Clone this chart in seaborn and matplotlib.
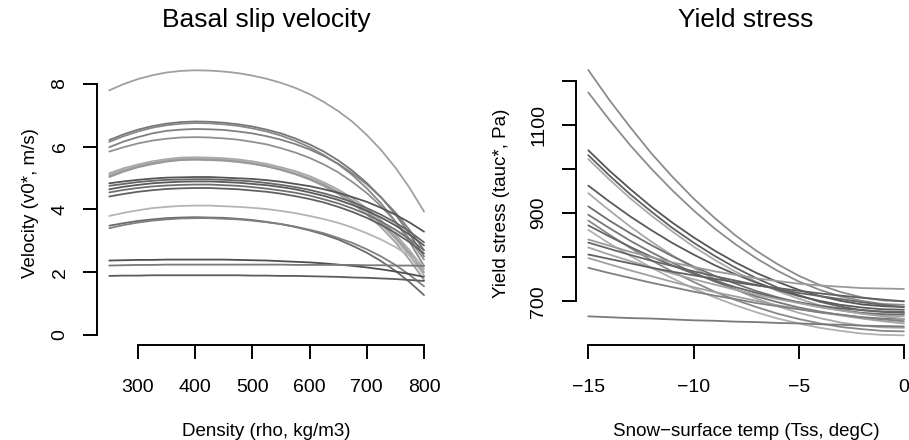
import matplotlib
matplotlib.use("Agg")
import matplotlib.pyplot as plt
import pandas as pd
import seaborn as sns

# ---------------- data ----------------
density = [250, 275, 300, 325, 350, 375, 400, 425, 450, 475, 500, 525,
           550, 575, 600, 625, 650, 675, 700, 725, 750, 775, 800]
velocity_curves = [
    [7.79, 7.99, 8.15, 8.27, 8.36, 8.41, 8.43, 8.42, 8.39, 8.34, 8.26, 8.16, 8.03, 7.87, 7.67, 7.42, 7.13, 6.79, 6.37, 5.89, 5.33, 4.68, 3.93],
    [6.21, 6.39, 6.54, 6.65, 6.73, 6.78, 6.80, 6.79, 6.76, 6.71, 6.64, 6.54, 6.42, 6.26, 6.07, 5.84, 5.56, 5.23, 4.84, 4.38, 3.84, 3.22, 2.50],
    [6.15, 6.33, 6.48, 6.60, 6.68, 6.73, 6.75, 6.74, 6.71, 6.66, 6.58, 6.48, 6.35, 6.18, 5.98, 5.73, 5.44, 5.09, 4.67, 4.19, 3.62, 2.96, 2.20],
    [5.98, 6.16, 6.30, 6.42, 6.50, 6.54, 6.56, 6.55, 6.53, 6.48, 6.42, 6.33, 6.22, 6.08, 5.91, 5.70, 5.45, 5.15, 4.80, 4.38, 3.90, 3.34, 2.70],
    [5.84, 5.98, 6.10, 6.19, 6.25, 6.29, 6.30, 6.29, 6.26, 6.22, 6.15, 6.07, 5.95, 5.81, 5.64, 5.43, 5.18, 4.87, 4.52, 4.10, 3.61, 3.05, 2.40],
    [5.15, 5.31, 5.43, 5.53, 5.60, 5.65, 5.66, 5.65, 5.63, 5.59, 5.53, 5.45, 5.34, 5.22, 5.06, 4.86, 4.63, 4.36, 4.03, 3.65, 3.21, 2.69, 2.10],
    [5.10, 5.26, 5.39, 5.50, 5.57, 5.62, 5.63, 5.62, 5.60, 5.55, 5.49, 5.41, 5.30, 5.16, 5.00, 4.80, 4.55, 4.27, 3.93, 3.53, 3.06, 2.52, 1.90],
    [5.06, 5.23, 5.36, 5.47, 5.54, 5.59, 5.60, 5.59, 5.57, 5.52, 5.46, 5.37, 5.26, 5.12, 4.95, 4.74, 4.49, 4.19, 3.84, 3.43, 2.95, 2.39, 1.75],
    [5.03, 5.20, 5.34, 5.44, 5.52, 5.57, 5.58, 5.57, 5.55, 5.51, 5.45, 5.37, 5.26, 5.13, 4.97, 4.78, 4.55, 4.27, 3.95, 3.56, 3.12, 2.60, 2.00],
    [4.83, 4.89, 4.94, 4.98, 5.01, 5.02, 5.03, 5.03, 5.01, 4.99, 4.97, 4.93, 4.88, 4.81, 4.74, 4.64, 4.53, 4.39, 4.24, 4.05, 3.83, 3.58, 3.29],
    [4.75, 4.81, 4.87, 4.91, 4.94, 4.95, 4.96, 4.96, 4.94, 4.92, 4.89, 4.84, 4.78, 4.71, 4.62, 4.51, 4.38, 4.23, 4.04, 3.83, 3.58, 3.29, 2.95],
    [4.64, 4.72, 4.78, 4.83, 4.86, 4.88, 4.89, 4.89, 4.87, 4.85, 4.81, 4.77, 4.71, 4.64, 4.54, 4.43, 4.30, 4.14, 3.96, 3.74, 3.49, 3.19, 2.85],
    [4.54, 4.62, 4.68, 4.73, 4.76, 4.78, 4.79, 4.79, 4.77, 4.75, 4.71, 4.66, 4.60, 4.53, 4.44, 4.32, 4.19, 4.03, 3.84, 3.61, 3.35, 3.05, 2.70],
    [4.41, 4.49, 4.56, 4.61, 4.65, 4.67, 4.68, 4.68, 4.66, 4.64, 4.60, 4.56, 4.50, 4.42, 4.33, 4.22, 4.08, 3.92, 3.73, 3.51, 3.25, 2.95, 2.60],
    [3.79, 3.89, 3.97, 4.04, 4.08, 4.11, 4.12, 4.12, 4.10, 4.08, 4.05, 4.01, 3.95, 3.88, 3.79, 3.69, 3.57, 3.42, 3.24, 3.04, 2.80, 2.52, 2.20],
    [3.48, 3.56, 3.63, 3.68, 3.72, 3.74, 3.75, 3.74, 3.73, 3.70, 3.66, 3.60, 3.53, 3.44, 3.33, 3.20, 3.04, 2.84, 2.62, 2.35, 2.04, 1.68, 1.27],
    [3.40, 3.50, 3.58, 3.64, 3.68, 3.71, 3.72, 3.72, 3.70, 3.68, 3.64, 3.59, 3.53, 3.45, 3.35, 3.24, 3.09, 2.93, 2.73, 2.50, 2.23, 1.91, 1.55],
    [2.37, 2.38, 2.39, 2.39, 2.40, 2.40, 2.40, 2.40, 2.40, 2.39, 2.38, 2.37, 2.35, 2.33, 2.31, 2.28, 2.24, 2.20, 2.15, 2.09, 2.02, 1.94, 1.85],
    [2.21, 2.22, 2.23, 2.23, 2.24, 2.24, 2.24, 2.24, 2.24, 2.24, 2.24, 2.24, 2.24, 2.23, 2.23, 2.23, 2.23, 2.23, 2.22, 2.22, 2.21, 2.21, 2.20],
    [1.88, 1.89, 1.89, 1.90, 1.90, 1.90, 1.90, 1.90, 1.90, 1.90, 1.89, 1.89, 1.88, 1.88, 1.87, 1.86, 1.85, 1.83, 1.82, 1.80, 1.78, 1.75, 1.72],
]
velocity_greys = ["#a0a0a0", "#777777", "#888888", "#808080", "#909090",
                  "#a8a8a8", "#b0b0b0", "#a0a0a0", "#999999", "#555555",
                  "#666666", "#5a5a5a", "#707070", "#606060", "#b4b4b4",
                  "#6a6a6a", "#808080", "#505050", "#7a7a7a", "#5c5c5c"]

temperature = [-15, -14, -13, -12, -11, -10, -9, -8, -7, -6, -5, -4, -3, -2, -1, 0]
stress_curves = [
    [1224, 1156, 1094, 1035, 982, 933, 889, 849, 814, 784, 758, 737, 721, 709, 702, 700],
    [1173, 1111, 1053, 1000, 951, 906, 865, 829, 797, 769, 745, 726, 711, 701, 694, 692],
    [1042, 996, 954, 914, 878, 845, 815, 788, 764, 744, 726, 712, 701, 693, 689, 687],
    [1031, 985, 942, 903, 866, 833, 803, 776, 752, 731, 714, 699, 688, 680, 676, 674],
    [1022, 976, 933, 894, 858, 824, 794, 767, 744, 723, 706, 691, 680, 672, 668, 666],
    [962, 926, 892, 861, 832, 806, 782, 761, 742, 726, 712, 701, 692, 686, 682, 681],
    [945, 906, 869, 835, 804, 776, 750, 727, 706, 689, 674, 662, 652, 645, 641, 640],
    [915, 883, 854, 827, 802, 779, 758, 740, 723, 709, 697, 687, 680, 674, 671, 670],
    [896, 866, 837, 811, 787, 765, 745, 727, 711, 698, 686, 677, 669, 664, 661, 660],
    [883, 851, 821, 793, 767, 744, 722, 703, 687, 672, 660, 650, 642, 637, 633, 632],
    [872, 847, 823, 801, 781, 763, 747, 732, 719, 707, 698, 690, 684, 680, 677, 676],
    [862, 831, 803, 776, 752, 729, 709, 691, 675, 661, 650, 640, 633, 627, 624, 623],
    [840, 826, 812, 800, 788, 778, 768, 760, 752, 746, 740, 736, 733, 730, 729, 728],
    [833, 819, 805, 792, 780, 768, 757, 747, 737, 728, 719, 712, 705, 698, 692, 687],
    [822, 806, 791, 777, 763, 750, 738, 726, 715, 705, 696, 687, 679, 672, 666, 660],
    [806, 796, 786, 776, 767, 759, 751, 743, 736, 730, 724, 718, 713, 708, 704, 700],
    [798, 784, 770, 757, 744, 732, 721, 711, 701, 691, 683, 675, 668, 661, 655, 650],
    [776, 764, 753, 742, 732, 722, 713, 705, 696, 689, 682, 675, 670, 664, 659, 655],
    [666, 664, 662, 661, 659, 657, 656, 654, 653, 651, 650, 648, 647, 645, 644, 643],
]
stress_greys = ["#8c8c8c", "#8c8c8c", "#555555", "#606060", "#aaaaaa",
                "#5a5a5a", "#a8a8a8", "#707070", "#777777", "#888888",
                "#666666", "#b0b0b0", "#999999", "#666666", "#a4a4a4",
                "#606060", "#a0a0a0", "#808080", "#7a7a7a"]

density_ticks = [300, 400, 500, 600, 700, 800]
velocity_ticks = [0, 2, 4, 6, 8]
temp_ticks = [-15, -10, -5, 0]
temp_ticklabels = ["\u221215", "\u221210", "\u22125", "0"]
stress_ticks = [700, 800, 900, 1000, 1100, 1200]
stress_ticklabels = ["700", "", "900", "", "1100", ""]

# ---------------- build tables ----------------
rows = []
for i, curve in enumerate(velocity_curves):
    for d, v in zip(density, curve):
        rows.append({"density": d, "velocity": v, "curve": f"v{i:02d}"})
df_v = pd.DataFrame(rows)
pal_v = {f"v{i:02d}": c for i, c in enumerate(velocity_greys)}

rows = []
for i, curve in enumerate(stress_curves):
    for t, s in zip(temperature, curve):
        rows.append({"temp": t, "stress": s, "curve": f"s{i:02d}"})
df_s = pd.DataFrame(rows)
pal_s = {f"s{i:02d}": c for i, c in enumerate(stress_greys)}

# ---------------- style ----------------
sns.set_theme(style="white")
plt.rcParams["font.family"] = ["Liberation Sans", "DejaVu Sans"]
plt.rcParams["text.color"] = "black"
plt.rcParams["axes.labelcolor"] = "black"
plt.rcParams["xtick.color"] = "black"
plt.rcParams["ytick.color"] = "black"

fig = plt.figure(figsize=(9.09, 4.40), dpi=100)
ax1 = fig.add_axes([0.1064, 0.2148, 0.3739, 0.6473])
ax2 = fig.add_axes([0.6333, 0.2148, 0.3750, 0.6473])

sns.lineplot(data=df_v, x="density", y="velocity", hue="curve", palette=pal_v,
             estimator=None, sort=False, legend=False, linewidth=1.3, ax=ax1)
sns.lineplot(data=df_s, x="temp", y="stress", hue="curve", palette=pal_s,
             estimator=None, sort=False, legend=False, linewidth=1.3, ax=ax2)

ax1.set_xlim(228, 822)
ax1.set_ylim(-0.336, 8.736)
ax2.set_xlim(-15.6, 0.6)
ax2.set_ylim(600, 1245)

ax1.set_xticks(density_ticks)
ax1.set_xticklabels([str(t) for t in density_ticks])
ax1.set_yticks(velocity_ticks)
ax1.set_yticklabels([str(t) for t in velocity_ticks])
ax2.set_xticks(temp_ticks)
ax2.set_xticklabels(temp_ticklabels)
ax2.set_yticks(stress_ticks)
ax2.set_yticklabels(stress_ticklabels)

ax1.spines["left"].set_bounds(velocity_ticks[0], velocity_ticks[-1])
ax1.spines["bottom"].set_bounds(density_ticks[0], density_ticks[-1])
ax2.spines["left"].set_bounds(stress_ticks[0], stress_ticks[-1])
ax2.spines["bottom"].set_bounds(temp_ticks[0], temp_ticks[-1])

for ax in (ax1, ax2):
    ax.set_facecolor("white")
    ax.grid(False)
    for side in ("top", "right"):
        ax.spines[side].set_visible(False)
    for side in ("left", "bottom"):
        ax.spines[side].set_linewidth(1.4)
        ax.spines[side].set_color("black")
    ax.tick_params(axis="both", direction="out", length=10.3, width=1.4,
                   labelsize=14, bottom=True, left=True)
    ax.tick_params(axis="x", pad=14.0)
    ax.tick_params(axis="y", pad=10.0, labelrotation=90)
    for lbl in ax.get_yticklabels():
        lbl.set_verticalalignment("center")

ax1.set_title("Basal slip velocity", fontsize=19, pad=23.9)
ax2.set_title("Yield stress", fontsize=19, pad=23.9)

ax1.set_xlabel("Density (rho, kg/m3)", fontsize=13.5, va="baseline")
ax1.xaxis.set_label_coords(0.5, -0.3178)
ax2.set_xlabel("Snow\u2212surface temp (Tss, degC)", fontsize=13.5, va="baseline")
ax2.xaxis.set_label_coords(0.5, -0.3178)

ax1.set_ylabel("Velocity (v0*, m/s)", fontsize=13.5, va="baseline")
ax1.yaxis.set_label_coords(-0.1815, 0.5)
ax2.set_ylabel("Yield stress (tauc*, Pa)", fontsize=13.5, va="baseline")
ax2.yaxis.set_label_coords(-0.2045, 0.5)

fig.savefig("out.png", dpi=100, facecolor="white")
